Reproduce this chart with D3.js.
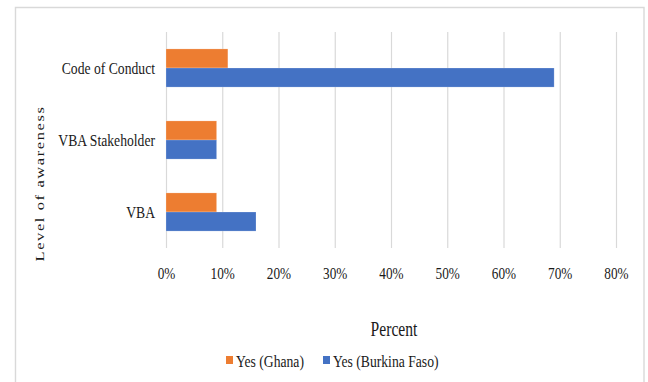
<!DOCTYPE html>
<html>
<head>
<meta charset="utf-8">
<script src="https://cdn.jsdelivr.net/npm/d3@7/dist/d3.min.js"></script>
<style>
  html, body { margin: 0; padding: 0; background: #fff; }
  svg { display: block; }
</style>
</head>
<body>
<svg id="chart" width="648" height="382"></svg>
<script>
// Awareness categories, drawn top to bottom
const categories = ["Code of Conduct", "VBA Stakeholder", "VBA"];
// Series (percent answering "Yes")
const seriesNames = ["Yes (Ghana)", "Yes (Burkina Faso)"];
const ghanaValues = [11, 9, 9];
const burkinaValues = [69, 9, 16];
const seriesColors = ["#ED7D31", "#4472C4"];
// Axis ticks
const xTicks = [0, 10, 20, 30, 40, 50, 60, 70, 80];
const xTickLabels = ["0%", "10%", "20%", "30%", "40%", "50%", "60%", "70%", "80%"];

const FONT = "'Liberation Serif', 'Times New Roman', 'DejaVu Serif', serif";
const INK = "#1a1a1a";
const SQ = 0.78; // horizontal compression of the serif lettering

const svg = d3.select("#chart");
const plot = { left: 166, right: 616, top: 32, bottom: 248 };

// outer frame
svg.append("path")
  .attr("d", `M15.5,400 V7.5 H644 V400`)
  .attr("fill", "none")
  .attr("stroke", "#d9d9d9")
  .attr("stroke-width", 1.4);

const x = d3.scaleLinear().domain([0, 80]).range([plot.left, plot.right]);
const y = d3.scaleBand().domain(categories)
  .range([plot.top, plot.bottom])
  .paddingInner(0.47).paddingOuter(0.235);
const ySub = d3.scaleBand().domain(seriesNames).range([0, y.bandwidth()]);

// value axis with gridlines
const xAxis = svg.append("g")
  .attr("transform", `translate(0,${plot.bottom})`)
  .call(d3.axisBottom(x)
    .tickValues(xTicks)
    .tickFormat((d, i) => xTickLabels[i])
    .tickSize(-(plot.bottom - plot.top))
    .tickSizeOuter(0));
xAxis.attr("font-family", FONT);
xAxis.select(".domain").remove();
xAxis.selectAll(".tick line").attr("stroke", "#d9d9d9").attr("stroke-width", 1.2);
xAxis.selectAll(".tick text")
  .attr("y", 0).attr("dy", 0)
  .attr("transform", `translate(0,31) scale(${SQ},1)`)
  .attr("font-family", FONT)
  .attr("font-size", 17)
  .attr("fill", INK);

// bars
const rows = categories.map((c, i) => ({ cat: c, vals: [ghanaValues[i], burkinaValues[i]] }));
const groups = svg.append("g").selectAll("g").data(rows).join("g")
  .attr("transform", d => `translate(0,${y(d.cat)})`);
groups.selectAll("rect")
  .data(d => d.vals.map((v, j) => ({ name: seriesNames[j], v, color: seriesColors[j] })))
  .join("rect")
  .attr("x", x(0))
  .attr("y", d => ySub(d.name))
  .attr("width", d => x(d.v) - x(0))
  .attr("height", ySub.bandwidth())
  .attr("fill", d => d.color)
  .attr("stroke", "#fff")
  .attr("stroke-opacity", 0.35)
  .attr("stroke-width", 0.6);

// category axis
const yAxis = svg.append("g")
  .attr("transform", `translate(${plot.left},0)`)
  .call(d3.axisLeft(y).tickSize(0));
yAxis.attr("font-family", FONT);
yAxis.select(".domain").remove();
yAxis.selectAll(".tick text")
  .attr("x", 0).attr("dy", "0.32em")
  .attr("transform", `translate(-11,0) scale(${SQ},1)`)
  .attr("text-anchor", "end")
  .attr("font-family", FONT)
  .attr("font-size", 17.5)
  .attr("fill", INK);

// axis titles
svg.append("text")
  .attr("transform", `translate(43.5,183.5) scale(${SQ},1) rotate(-90)`)
  .attr("text-anchor", "middle")
  .attr("font-family", FONT)
  .attr("font-size", 16.5)
  .attr("letter-spacing", 1.6)
  .attr("fill", INK)
  .text("Level of awareness");

svg.append("text")
  .attr("transform", `translate(394,336) scale(${SQ},1)`)
  .attr("text-anchor", "middle")
  .attr("font-family", FONT)
  .attr("font-size", 20)
  .attr("fill", INK)
  .text("Percent");

// legend
const legendX = [226, 323];
const legend = svg.append("g").selectAll("g").data(seriesNames).join("g")
  .attr("transform", (d, i) => `translate(${legendX[i]},0)`);
legend.append("rect")
  .attr("x", 0).attr("y", 356)
  .attr("width", 7).attr("height", 8)
  .attr("fill", (d, i) => seriesColors[i]);
legend.append("text")
  .attr("transform", `translate(10,366.5) scale(${SQ},1)`)
  .attr("font-family", FONT)
  .attr("font-size", 17.5)
  .attr("fill", INK)
  .text(d => d);
</script>
</body>
</html>
